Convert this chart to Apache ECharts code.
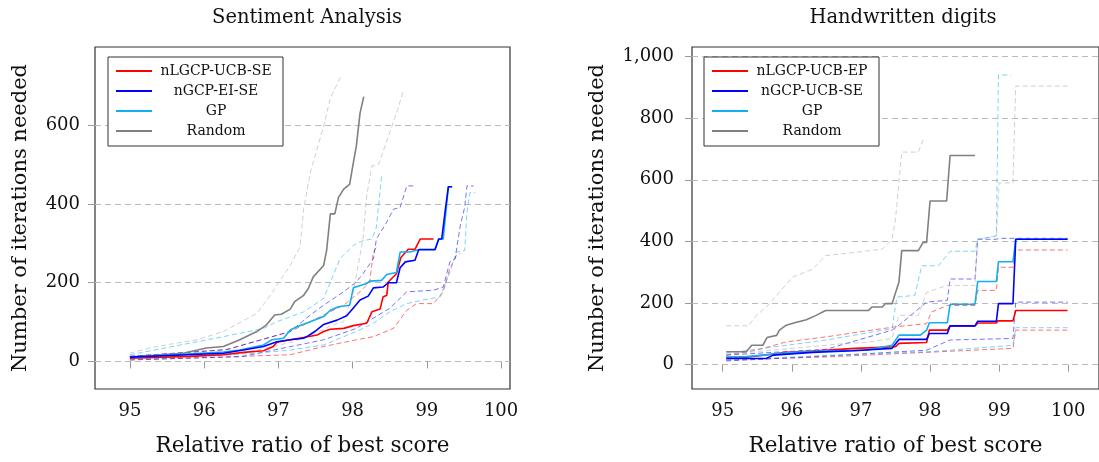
<!DOCTYPE html>
<html>
<head>
<meta charset="utf-8">
<script src="https://cdn.jsdelivr.net/npm/echarts@6/dist/echarts.min.js"></script>
<style>html,body{margin:0;padding:0;background:#fff}#c{width:1099px;height:462px}</style>
</head>
<body>
<div id="c"></div>
<script>
// ---------- Data: Sentiment Analysis ----------
const xTicks = [95, 96, 97, 98, 99, 100];
const sentYTicks = [0, 200, 400, 600];
const digitYTicks = [0, 200, 400, 600, 800, 1000];
const sentNames = ['nLGCP-UCB-SE', 'nGCP-EI-SE', 'GP', 'Random'];
const digitNames = ['nLGCP-UCB-EP', 'nGCP-UCB-SE', 'GP', 'Random'];

const sentRed = [[95.00,8],[95.81,13],[96.26,17],[96.53,23],[96.80,27],[96.93,38],[96.98,49],[97.16,55],[97.34,61],[97.52,67],[97.61,76],[97.70,82],[97.88,84],[98.01,91],[98.19,97],[98.26,126],[98.37,133],[98.41,164],[98.46,168],[98.48,202],[98.59,223],[98.65,264],[98.75,285],[98.84,285],[98.91,311],[99.09,311]];
const sentBlue = [[95.00,11],[96.26,21],[96.53,29],[96.80,38],[96.98,50],[97.16,55],[97.34,59],[97.40,65],[97.49,76],[97.61,94],[97.79,105],[97.92,116],[98.01,136],[98.10,156],[98.21,166],[98.28,187],[98.41,189],[98.48,200],[98.59,200],[98.64,238],[98.71,253],[98.84,257],[98.89,284],[99.11,284],[99.16,311],[99.20,311],[99.25,387],[99.29,444],[99.34,444]];
const sentCyan = [[95.00,11],[96.26,24],[96.48,29],[96.80,42],[96.91,55],[97.07,59],[97.16,80],[97.25,88],[97.43,101],[97.61,114],[97.70,130],[97.81,139],[97.96,143],[98.01,187],[98.19,198],[98.23,204],[98.39,206],[98.46,221],[98.59,226],[98.64,278],[98.77,278],[98.91,285],[99.11,285],[99.16,311],[99.22,311],[99.29,444],[99.34,444]];
const sentGray = [[95.00,11],[95.72,21],[96.03,34],[96.26,38],[96.48,55],[96.71,76],[96.84,93],[96.95,118],[97.04,120],[97.16,133],[97.22,152],[97.34,168],[97.40,184],[97.47,215],[97.61,244],[97.65,282],[97.70,375],[97.76,375],[97.81,417],[97.88,438],[97.96,450],[98.01,505],[98.05,547],[98.10,631],[98.15,673]];

const sentRedHi = [[95.00,13],[96.3,30],[97.16,76],[97.61,118],[97.88,143],[98.10,177],[98.23,202],[98.28,278],[98.32,290]];
const sentRedLo = [[95.00,4],[97.16,17],[97.61,38],[98.05,55],[98.28,63],[98.55,84],[98.73,130],[98.86,147],[99.09,147],[99.22,177],[99.31,236],[99.40,270],[99.45,274]];
const sentBlueHi = [[95.00,13],[96.3,30],[97.16,76],[97.43,118],[97.61,143],[97.88,177],[98.05,202],[98.14,223],[98.28,261],[98.32,311],[98.46,354],[98.55,387],[98.64,391],[98.73,446],[98.82,446]];
const sentBlueLo = [[95.00,4],[96.5,12],[97.61,55],[98.05,84],[98.50,135],[98.73,177],[99.09,181],[99.22,189],[99.31,253],[99.38,261],[99.45,345],[99.51,392],[99.54,446],[99.63,446]];
const sentCyanHi = [[95.00,17],[96.26,63],[96.80,84],[96.98,101],[97.34,126],[97.61,160],[97.83,261],[98.01,295],[98.14,307],[98.26,311],[98.32,341],[98.39,471]];
const sentCyanLo = [[95.00,4],[96.71,21],[97.16,29],[97.61,42],[98.05,76],[98.28,97],[98.50,126],[98.73,147],[98.95,156],[99.18,164],[99.31,227],[99.40,278],[99.51,282],[99.54,379],[99.58,429],[99.65,429]];
const sentGrayHi = [[95.00,21],[95.36,38],[95.90,55],[96.26,76],[96.71,122],[96.89,168],[97.16,244],[97.29,290],[97.34,387],[97.43,480],[97.61,598],[97.70,669],[97.85,728]];
const sentGrayLo = [[95.00,6],[96.5,20],[97.2,50],[97.6,80],[97.70,91],[97.88,101],[98.01,177],[98.14,311],[98.19,421],[98.26,497],[98.35,501],[98.50,581],[98.62,648],[98.68,686]];

// ---------- Data: Handwritten digits ----------
const digRed = [[95.05,24],[95.34,24],[95.68,33],[95.92,40],[96.30,44],[96.92,53],[97.50,58],[97.55,69],[97.95,72],[97.99,112],[98.25,112],[98.29,126],[98.65,126],[98.69,135],[98.96,135],[98.98,142],[99.20,142],[99.24,176],[99.99,176]];
const digBlue = [[95.05,20],[95.63,20],[95.73,31],[96.30,40],[96.88,45],[97.45,53],[97.55,82],[97.95,82],[97.99,101],[98.25,101],[98.29,126],[98.65,126],[98.69,141],[98.96,141],[98.99,198],[99.20,198],[99.24,407],[99.99,407]];
const digCyan = [[95.05,24],[95.34,26],[96.01,40],[96.44,44],[97.07,47],[97.45,63],[97.55,96],[97.86,96],[97.95,112],[97.99,136],[98.25,136],[98.29,196],[98.65,196],[98.69,270],[98.96,270],[98.99,334],[99.20,334],[99.24,407],[99.99,407]];
const digGray = [[95.05,42],[95.34,42],[95.42,63],[95.58,63],[95.64,88],[95.78,95],[95.82,112],[95.92,128],[96.04,136],[96.21,146],[96.35,160],[96.49,176],[97.11,176],[97.16,187],[97.31,187],[97.35,198],[97.45,198],[97.55,268],[97.59,370],[97.83,370],[97.90,397],[97.95,397],[98.00,531],[98.24,531],[98.29,679],[98.65,679]];

const digRedHi = [[95.05,31],[95.49,47],[95.92,74],[96.49,90],[96.97,106],[97.50,123],[97.95,133],[98.02,171],[98.25,192],[98.65,192],[98.69,241],[98.96,241],[98.99,316],[99.20,316],[99.24,372],[99.99,372]];
const digRedLo = [[95.05,15],[96.5,25],[97.95,40],[99.20,53],[99.24,112],[99.99,112]];
const digBlueHi = [[95.05,31],[96.5,50],[97.45,112],[97.55,128],[97.95,203],[98.25,209],[98.29,278],[98.65,278],[98.69,407],[98.96,407],[99.00,410],[99.99,410]];
const digBlueLo = [[95.05,12],[96.5,28],[97.95,47],[98.29,80],[99.20,85],[99.24,203],[99.99,203]];
const digCyanHi = [[95.05,37],[96.5,80],[97.45,117],[97.52,219],[97.78,225],[97.88,321],[98.12,321],[98.29,368],[98.65,368],[98.69,407],[98.96,418],[98.99,940],[99.17,940]];
const digCyanLo = [[95.05,15],[96.5,30],[98.00,42],[99.20,63],[99.24,120],[99.99,120]];
const digGrayHi = [[95.05,126],[95.37,126],[95.49,160],[95.63,187],[95.82,235],[96.01,284],[96.30,310],[96.49,354],[96.78,361],[97.31,375],[97.45,407],[97.50,472],[97.59,690],[97.83,690],[97.90,730]];
const digGrayLo = [[95.05,33],[96.78,69],[97.07,72],[97.45,85],[97.55,160],[97.83,160],[97.95,235],[98.25,257],[98.65,257],[98.69,407],[98.96,418],[99.00,590],[99.20,590],[99.24,904],[99.99,904]];

// ---------- Styling ----------
const FONT = 'DejaVu Serif';
const C_RED = '#ff0000', C_BLUE = '#0000ff', C_CYAN = '#12aff0', C_GRAY = '#808080';

function mainLine(name, data, color, idx) {
  return { name, type: 'line', data, xAxisIndex: idx, yAxisIndex: idx, symbol: 'none',
    lineStyle: { color, width: 1.6 }, itemStyle: { color }, z: 5, silent: true };
}
function bandLine(name, data, color, idx) {
  return { name, type: 'line', data, xAxisIndex: idx, yAxisIndex: idx, symbol: 'none',
    lineStyle: { color, width: 1, type: [5, 3], opacity: 0.55 }, itemStyle: { color }, z: 3, silent: true };
}
function xAx(idx, min, max) {
  return { type: 'value', gridIndex: idx, min, max,
    axisLine: { show: false },
    axisTick: { show: true, customValues: xTicks, length: 7, lineStyle: { color: '#999' } },
    axisLabel: { customValues: xTicks, fontFamily: FONT, fontSize: 18, color: '#111', margin: 13 },
    splitLine: { show: false },
    name: 'Relative ratio of best score', nameLocation: 'middle', nameGap: 46,
    nameTextStyle: { fontFamily: FONT, fontSize: 21.5, color: '#111' } };
}
function yAx(idx, min, max, ticks, gap, margin) {
  return { type: 'value', gridIndex: idx, min, max,
    axisLine: { show: false },
    axisTick: { show: true, customValues: ticks, length: 7, lineStyle: { color: '#999' } },
    axisLabel: { customValues: ticks, fontFamily: FONT, fontSize: 18, color: '#111', margin,
      formatter: v => v.toLocaleString('en-US') },
    splitLine: { show: true, lineStyle: { color: '#bbb', type: [6, 4], width: 1 } },
    name: 'Number of iterations needed', nameLocation: 'middle', nameGap: gap, nameRotate: 90,
    nameTextStyle: { fontFamily: FONT, fontSize: 21, color: '#111' } };
}
function legend(names, left) {
  return { data: names.map(n => ({ name: n })), orient: 'vertical', left, top: 57,
    icon: 'rect', itemWidth: 36, itemHeight: 2, itemGap: 6,
    backgroundColor: '#fff', borderColor: '#333', borderWidth: 1, padding: [7, 8, 8, 8],
    formatter: n => '{a|' + n + '}',
    textStyle: { fontFamily: FONT, fontSize: 14, color: '#111',
      rich: { a: { width: 118, align: 'center', fontFamily: FONT, fontSize: 14, lineHeight: 15 } } },
    selectedMode: false };
}

const chart = echarts.init(document.getElementById('c'), null, { renderer: 'canvas' });
chart.setOption({
  animation: false,
  backgroundColor: '#fff',
  title: [
    { text: 'Sentiment Analysis', left: 302, top: 3, textAlign: 'center',
      textStyle: { fontFamily: FONT, fontSize: 19.5, fontWeight: 'normal', color: '#111' } },
    { text: 'Handwritten digits', left: 898, top: 3, textAlign: 'center',
      textStyle: { fontFamily: FONT, fontSize: 19.5, fontWeight: 'normal', color: '#111' } }
  ],
  legend: [legend(sentNames, 108), legend(digitNames, 704)],
  grid: [
    { left: 95, top: 47, width: 415, height: 344, show: true, borderColor: '#333', borderWidth: 1.2, backgroundColor: 'transparent' },
    { left: 692, top: 47, width: 410, height: 344, show: true, borderColor: '#333', borderWidth: 1.2, backgroundColor: 'transparent' }
  ],
  xAxis: [xAx(0, 94.53, 100.12), xAx(1, 94.555, 100.445)],
  yAxis: [yAx(0, -70, 799, sentYTicks, 64, 15), yAx(1, -79, 1031, digitYTicks, 84, 18)],
  series: [
    bandLine('sRedHi', sentRedHi, C_RED, 0), bandLine('sRedLo', sentRedLo, C_RED, 0),
    bandLine('sBlueHi', sentBlueHi, C_BLUE, 0), bandLine('sBlueLo', sentBlueLo, C_BLUE, 0),
    bandLine('sCyanHi', sentCyanHi, C_CYAN, 0), bandLine('sCyanLo', sentCyanLo, C_CYAN, 0),
    bandLine('sGrayHi', sentGrayHi, '#aaaaaa', 0), bandLine('sGrayLo', sentGrayLo, '#aaaaaa', 0),
    mainLine(sentNames[3], sentGray, C_GRAY, 0),
    mainLine(sentNames[0], sentRed, C_RED, 0),
    mainLine(sentNames[2], sentCyan, C_CYAN, 0),
    mainLine(sentNames[1], sentBlue, C_BLUE, 0),

    bandLine('dRedHi', digRedHi, C_RED, 1), bandLine('dRedLo', digRedLo, C_RED, 1),
    bandLine('dBlueHi', digBlueHi, C_BLUE, 1), bandLine('dBlueLo', digBlueLo, C_BLUE, 1),
    bandLine('dCyanHi', digCyanHi, C_CYAN, 1), bandLine('dCyanLo', digCyanLo, C_CYAN, 1),
    bandLine('dGrayHi', digGrayHi, '#aaaaaa', 1), bandLine('dGrayLo', digGrayLo, '#aaaaaa', 1),
    mainLine(digitNames[3], digGray, C_GRAY, 1),
    mainLine(digitNames[0], digRed, C_RED, 1),
    mainLine(digitNames[2], digCyan, C_CYAN, 1),
    mainLine(digitNames[1], digBlue, C_BLUE, 1)
  ]
});
</script>
</body>
</html>
